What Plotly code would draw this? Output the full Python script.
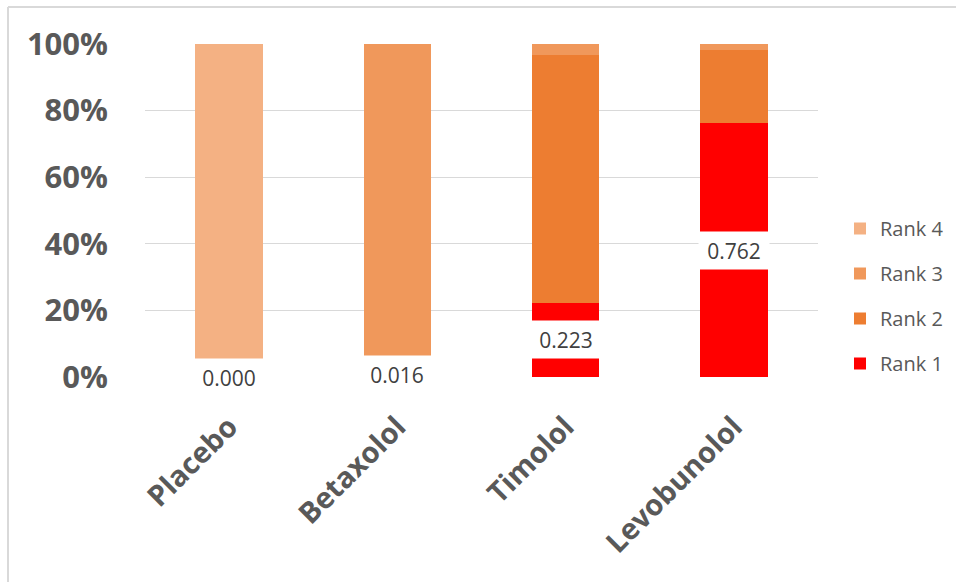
import plotly.graph_objects as go

# Ranking probabilities of each treatment (stacked to 100%)
treatments = ["Placebo", "Betaxolol", "Timolol", "Levobunolol"]
rank1 = [0.000, 0.016, 0.223, 0.762]
rank2 = [0.000, 0.035, 0.744, 0.220]
rank3 = [0.000, 0.949, 0.033, 0.018]
rank4 = [1.000, 0.000, 0.000, 0.000]

series_names = ["Rank 1", "Rank 2", "Rank 3", "Rank 4"]
series_values = [rank1, rank2, rank3, rank4]
series_colors = ["#FF0000", "#ED7D31", "#F0985B", "#F4B183"]

W, H = 956, 582
ML, MR, MT, MB = 145, 138, 44, 205
PW, PH = W - ML - MR, H - MT - MB

fig = go.Figure()
for i, (name, vals, col) in enumerate(zip(series_names, series_values, series_colors)):
    fig.add_trace(go.Bar(
        x=treatments, y=vals, name=name, legendgroup=name,
        legendrank=len(series_names) - i,
        marker=dict(color=col, line=dict(width=0)),
        hoverinfo="skip",
    ))

# Rank 1 probability labels, centred on the Rank 1 segment
for t, v in zip(treatments, rank1):
    fig.add_annotation(
        x=t, y=v / 2, xref="x", yref="y", text=f"{v:.3f}",
        showarrow=False, bgcolor="white", borderpad=5,
        width=60, height=27,
        font=dict(family="Open Sans", size=21, color="#404040"),
    )

# Thin frame around the chart area
fx0 = (8 - ML) / PW
fy1 = (H - MB - 7) / PH
fig.add_shape(type="line", xref="paper", yref="paper",
              x0=fx0, x1=(W + 10 - ML) / PW, y0=fy1, y1=fy1,
              line=dict(color="#D9D9D9", width=2))
fig.add_shape(type="line", xref="paper", yref="paper",
              x0=fx0, x1=fx0, y0=fy1, y1=-(MB + 10) / PH,
              line=dict(color="#D9D9D9", width=2))

fig.update_layout(
    width=W, height=H,
    margin=dict(l=ML, r=MR, t=MT, b=MB, pad=0, autoexpand=False),
    barmode="stack", bargap=0.6,
    plot_bgcolor="white", paper_bgcolor="white",
    font=dict(family="Open Sans", color="#595959"),
    legend=dict(
        xref="container", yref="container",
        x=840 / W, xanchor="left",
        y=1 - 209 / H, yanchor="top",
        traceorder="grouped", tracegroupgap=16,
        font=dict(family="Open Sans", size=20, color="#595959"),
        bgcolor="rgba(0,0,0,0)",
    ),
    xaxis=dict(
        tickangle=-45, showgrid=False, showline=False, ticks="",
        tickfont=dict(family="Open Sans", size=29, color="#595959", weight="bold"),
        ticklabelstandoff=26,
    ),
    yaxis=dict(
        range=[0, 1], tickvals=[0, 0.2, 0.4, 0.6, 0.8, 1.0],
        tickformat=".0%", showgrid=True, gridcolor="#D9D9D9", gridwidth=1,
        zeroline=False, showline=False, ticks="",
        tickfont=dict(family="Open Sans", size=31, color="#595959", weight="bold"),
        ticklabelstandoff=36,
    ),
)

fig.write_html("out.html")
